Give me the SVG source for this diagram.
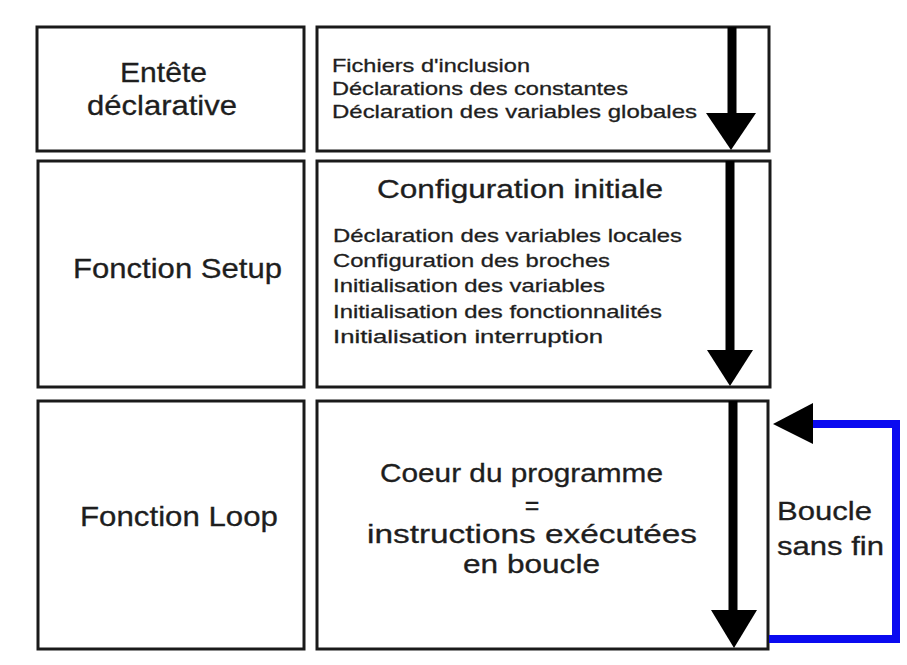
<svg xmlns="http://www.w3.org/2000/svg" width="907" height="665" viewBox="0 0 907 665">
<style>
.box{fill:#fff;stroke:#1a1a1a;stroke-width:3}
.t{font-family:"Liberation Sans",Arial,sans-serif;fill:#1e1e1e;stroke:#1e1e1e;stroke-width:0.3}
.big{font-size:28px}
.mid{font-size:25px}
.sm{font-size:19px}
.down{stroke:#000;stroke-width:9;fill:none}
.head{fill:#000}
.loop{stroke:#0a0af0;stroke-width:8;fill:none}
</style>
<rect width="907" height="665" fill="#fff"/>
<g id="entete">
<rect class="box" x="37" y="27" width="267" height="124"/>
<text class="t big" x="120" y="82" textLength="87" lengthAdjust="spacingAndGlyphs">Entête</text>
<text class="t big" x="87" y="115" textLength="150" lengthAdjust="spacingAndGlyphs">déclarative</text>
</g>
<g id="entete-contenu">
<rect class="box" x="317" y="27" width="452" height="124"/>
<text class="t sm" x="332" y="72" textLength="198" lengthAdjust="spacingAndGlyphs">Fichiers d'inclusion</text>
<text class="t sm" x="332" y="95" textLength="296" lengthAdjust="spacingAndGlyphs">Déclarations des constantes</text>
<text class="t sm" x="332" y="118" textLength="365" lengthAdjust="spacingAndGlyphs">Déclaration des variables globales</text>
</g>
<g id="setup">
<rect class="box" x="38" y="161" width="266" height="226"/>
<text class="t big" x="73" y="278" textLength="209" lengthAdjust="spacingAndGlyphs">Fonction Setup</text>
</g>
<g id="setup-contenu">
<rect class="box" x="317" y="161" width="453" height="226"/>
<text class="t mid" x="377" y="198" textLength="286" lengthAdjust="spacingAndGlyphs">Configuration initiale</text>
<text class="t sm" x="333" y="242" textLength="349" lengthAdjust="spacingAndGlyphs">Déclaration des variables locales</text>
<text class="t sm" x="333" y="267" textLength="277" lengthAdjust="spacingAndGlyphs">Configuration des broches</text>
<text class="t sm" x="333" y="292" textLength="272" lengthAdjust="spacingAndGlyphs">Initialisation des variables</text>
<text class="t sm" x="333" y="318" textLength="329" lengthAdjust="spacingAndGlyphs">Initialisation des fonctionnalités</text>
<text class="t sm" x="333" y="343" textLength="270" lengthAdjust="spacingAndGlyphs">Initialisation interruption</text>
</g>
<g id="loop">
<rect class="box" x="38" y="401" width="266" height="248"/>
<text class="t big" x="80" y="526" textLength="198" lengthAdjust="spacingAndGlyphs">Fonction Loop</text>
</g>
<g id="loop-contenu">
<rect class="box" x="317" y="401" width="451" height="248"/>
<text class="t mid" x="380" y="482" textLength="283" lengthAdjust="spacingAndGlyphs">Coeur du programme</text>
<text class="t mid" x="532" y="514" text-anchor="middle">=</text>
<text class="t mid" x="367" y="543" textLength="330" lengthAdjust="spacingAndGlyphs">instructions exécutées</text>
<text class="t mid" x="463" y="573" textLength="137" lengthAdjust="spacingAndGlyphs">en boucle</text>
</g>
<g id="boucle-label">
<text class="t mid" x="777" y="520" textLength="95" lengthAdjust="spacingAndGlyphs">Boucle</text>
<text class="t mid" x="777" y="555" textLength="107" lengthAdjust="spacingAndGlyphs">sans fin</text>
</g>
<g id="connectors">
<line class="down" x1="732" y1="27" x2="732" y2="115"/>
<polygon class="head" points="706,113 756,113 731,150"/>
<line class="down" x1="730" y1="161" x2="730" y2="352"/>
<polygon class="head" points="707,350 753,350 730,386"/>
<line class="down" x1="733" y1="401" x2="733" y2="612"/>
<polygon class="head" points="711,610 757,610 734,648"/>
<polyline class="loop" points="769,639 896,639 896,424 810,424"/>
<polygon class="head" points="773,424 813,403 813,444"/>
</g>
</svg>
